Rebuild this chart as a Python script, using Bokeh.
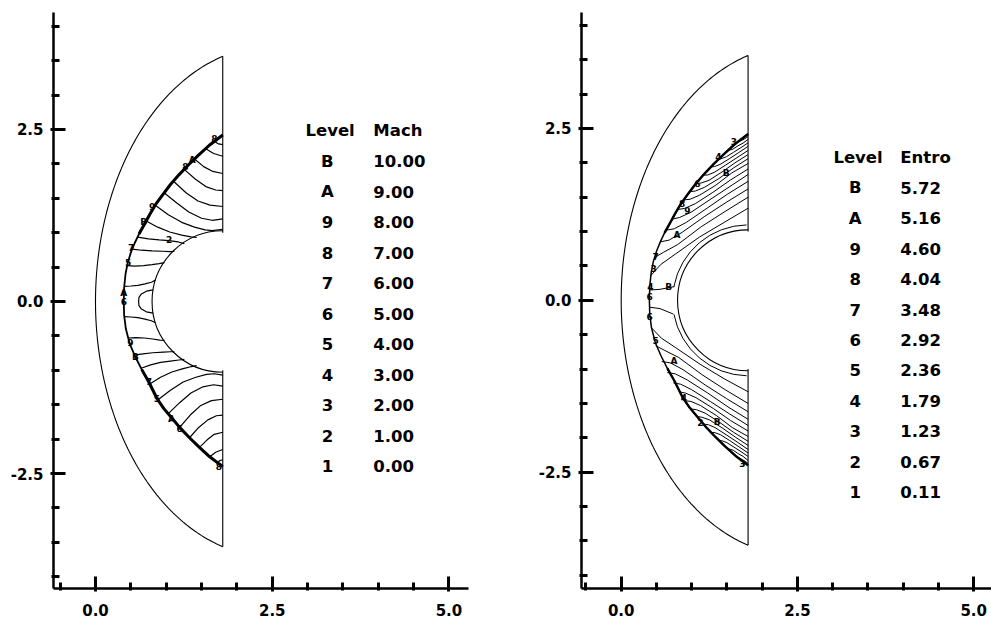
import numpy as np
from bokeh.plotting import figure
from bokeh.layouts import row
from bokeh.models import FixedTicker, Range1d, PrintfTickFormatter
from bokeh.embed import file_html
from bokeh.resources import INLINE
from bokeh.core.properties import value

# ---------------- legend tables ----------------
level_names = ["B", "A", "9", "8", "7", "6", "5", "4", "3", "2", "1"]
mach_values = ["10.00", "9.00", "8.00", "7.00", "6.00", "5.00", "4.00", "3.00", "2.00", "1.00", "0.00"]
entro_values = ["5.72", "5.16", "4.60", "4.04", "3.48", "2.92", "2.36", "1.79", "1.23", "0.67", "0.11"]

# ---------------- ticks ----------------
x_major = [0.0, 2.5, 5.0]
x_minor = [-0.5, 0.5, 1.0, 1.5, 2.0, 3.0, 3.5, 4.0, 4.5]
y_major = [-2.5, 0.0, 2.5]
y_minor = [-4.0, -3.5, -3.0, -2.0, -1.5, -1.0, -0.5, 0.5, 1.0, 1.5, 2.0, 3.0, 3.5, 4.0]

# ---------------- geometry ----------------
body_cx, body_r = 1.8, 1.0
exit_x = 1.8
outer_cx, outer_a, outer_b = 2.5, 2.5, 3.71

shock_x = [1.80, 1.61, 1.45, 1.31, 1.18, 1.06, 0.95, 0.85, 0.765, 0.69, 0.615, 0.555, 0.50, 0.455, 0.425, 0.405, 0.40,
           0.405, 0.43, 0.486, 0.566, 0.655, 0.754, 0.87, 0.97, 1.085, 1.20, 1.33, 1.47, 1.62, 1.80]
shock_y = [2.42, 2.27, 2.12, 1.98, 1.84, 1.70, 1.55, 1.41, 1.26, 1.12, 0.98, 0.85, 0.71, 0.56, 0.40, 0.20, 0.0,
           -0.20, -0.40, -0.62, -0.81, -0.99, -1.17, -1.41, -1.56, -1.70, -1.84, -1.98, -2.12, -2.26, -2.40]

# Mach contours (traced)
mach_xs = [
    [0.815, 0.72, 0.65, 0.615, 0.61, 0.615, 0.65, 0.72, 0.815],
    [0.407, 0.50, 0.60, 0.70, 0.79, 0.849],
    [0.447, 0.56, 0.68, 0.80, 0.90, 0.975],
    [0.52, 0.65, 0.80, 0.95, 1.05, 1.117],
    [0.595, 0.75, 0.90, 1.04, 1.17, 1.257],
    [0.717, 0.88, 1.05, 1.22, 1.35, 1.432],
    [0.845, 1.03, 1.22, 1.40, 1.55, 1.65, 1.80],
    [0.97, 1.15, 1.32, 1.50, 1.65, 1.80],
    [1.10, 1.28, 1.45, 1.62, 1.80],
    [1.255, 1.41, 1.56, 1.70, 1.80],
    [1.40, 1.53, 1.66, 1.80],
    [1.56, 1.67, 1.80],
    [1.68, 1.74, 1.80],
    [0.408, 0.50, 0.60, 0.70, 0.79, 0.849],
    [0.463, 0.57, 0.69, 0.81, 0.91, 0.975],
    [0.55, 0.67, 0.81, 0.96, 1.06, 1.117],
    [0.645, 0.78, 0.92, 1.06, 1.18, 1.257],
    [0.768, 0.92, 1.08, 1.24, 1.36, 1.432],
    [0.88, 1.06, 1.24, 1.42, 1.57, 1.68, 1.80],
    [1.03, 1.19, 1.35, 1.52, 1.67, 1.80],
    [1.19, 1.34, 1.49, 1.64, 1.80],
    [1.33, 1.46, 1.59, 1.71, 1.80],
    [1.47, 1.58, 1.68, 1.80],
    [1.61, 1.70, 1.80],
    [1.73, 1.76, 1.80],
]
mach_ys = [
    [0.17, 0.15, 0.11, 0.06, 0.0, -0.06, -0.11, -0.15, -0.17],
    [0.22, 0.225, 0.235, 0.255, 0.28, 0.31],
    [0.52, 0.515, 0.52, 0.535, 0.55, 0.565],
    [0.76, 0.745, 0.735, 0.73, 0.725, 0.73],
    [0.935, 0.91, 0.895, 0.885, 0.865, 0.84],
    [1.17, 1.08, 1.01, 0.965, 0.94, 0.93],
    [1.40, 1.26, 1.15, 1.08, 1.04, 1.03, 1.05],
    [1.58, 1.43, 1.30, 1.21, 1.18, 1.20],
    [1.75, 1.58, 1.46, 1.40, 1.38],
    [1.92, 1.78, 1.67, 1.62, 1.61],
    [2.07, 1.96, 1.89, 1.86],
    [2.22, 2.15, 2.11],
    [2.33, 2.29, 2.28],
    [-0.22, -0.225, -0.235, -0.255, -0.28, -0.31],
    [-0.53, -0.525, -0.53, -0.545, -0.56, -0.565],
    [-0.78, -0.76, -0.745, -0.735, -0.73, -0.73],
    [-0.97, -0.92, -0.885, -0.865, -0.85, -0.84],
    [-1.20, -1.10, -1.025, -0.975, -0.945, -0.93],
    [-1.43, -1.29, -1.17, -1.10, -1.06, -1.05, -1.07],
    [-1.63, -1.47, -1.33, -1.24, -1.21, -1.23],
    [-1.83, -1.65, -1.51, -1.44, -1.42],
    [-1.98, -1.83, -1.72, -1.66, -1.65],
    [-2.12, -2.01, -1.93, -1.90],
    [-2.26, -2.19, -2.15],
    [-2.34, -2.31, -2.30],
]
mach_label_text = ["8", "A", "8", "9", "B", "7", "5", "A", "6", "9", "B", "7", "5", "A", "6", "8", "2"]
mach_label_x = [1.68, 1.37, 1.27, 0.80, 0.68, 0.505, 0.46, 0.40, 0.40, 0.495, 0.566, 0.754, 0.87, 1.075, 1.19, 1.745, 1.04]
mach_label_y = [2.37, 2.05, 1.96, 1.38, 1.15, 0.78, 0.57, 0.12, 0.0, -0.59, -0.81, -1.16, -1.41, -1.70, -1.84, -2.40, 0.90]

# Entropy contours (traced)
entro_xs = [
    [0.42, 0.56, 0.765, 1.11, 1.455, 1.80],
    [0.47, 0.603, 0.80, 1.135, 1.47, 1.80],
    [0.555, 0.68, 0.866, 1.178, 1.489, 1.80],
    [0.635, 0.752, 0.926, 1.218, 1.509, 1.80],
    [0.72, 0.828, 0.99, 1.26, 1.53, 1.80],
    [0.80, 0.90, 1.05, 1.30, 1.55, 1.80],
    [0.885, 0.977, 1.114, 1.343, 1.571, 1.80],
    [0.97, 1.053, 1.178, 1.385, 1.593, 1.80],
    [1.06, 1.134, 1.245, 1.43, 1.615, 1.80],
    [1.165, 1.229, 1.324, 1.483, 1.641, 1.80],
    [1.27, 1.323, 1.403, 1.535, 1.668, 1.80],
    [1.39, 1.431, 1.493, 1.595, 1.698, 1.80],
    [1.515, 1.58, 1.657, 1.728, 1.80],
    [1.64, 1.72, 1.80],
    [0.43, 0.57, 0.775, 1.12, 1.46, 1.80],
    [0.49, 0.62, 0.815, 1.145, 1.475, 1.80],
    [0.575, 0.70, 0.88, 1.19, 1.495, 1.80],
    [0.655, 0.77, 0.94, 1.23, 1.515, 1.80],
    [0.74, 0.845, 1.00, 1.27, 1.535, 1.80],
    [0.82, 0.915, 1.06, 1.31, 1.555, 1.80],
    [0.90, 0.99, 1.125, 1.35, 1.575, 1.80],
    [0.985, 1.065, 1.19, 1.39, 1.595, 1.80],
    [1.075, 1.145, 1.255, 1.44, 1.62, 1.80],
    [1.175, 1.24, 1.33, 1.49, 1.645, 1.80],
    [1.28, 1.33, 1.41, 1.54, 1.67, 1.80],
    [1.40, 1.44, 1.50, 1.60, 1.70, 1.80],
    [1.525, 1.59, 1.66, 1.73, 1.80],
    [1.65, 1.725, 1.80],
    [0.405, 0.55, 0.759],
    [0.405, 0.55, 0.74],
]
entro_ys = [
    [0.36, 0.52, 0.67, 0.92, 1.13, 1.34],
    [0.62, 0.70, 0.81, 1.07, 1.29, 1.50],
    [0.85, 0.876, 0.99, 1.216, 1.424, 1.62],
    [1.02, 1.04, 1.135, 1.34, 1.545, 1.73],
    [1.18, 1.205, 1.28, 1.465, 1.647, 1.83],
    [1.32, 1.337, 1.405, 1.57, 1.75, 1.91],
    [1.46, 1.47, 1.53, 1.675, 1.854, 1.99],
    [1.58, 1.59, 1.642, 1.77, 1.925, 2.06],
    [1.70, 1.706, 1.745, 1.866, 2.0, 2.12],
    [1.82, 1.823, 1.863, 1.968, 2.074, 2.18],
    [1.94, 1.945, 1.976, 2.06, 2.149, 2.24],
    [2.06, 2.064, 2.089, 2.154, 2.22, 2.29],
    [2.18, 2.196, 2.248, 2.286, 2.34],
    [2.30, 2.33, 2.38],
    [-0.40, -0.55, -0.69, -0.93, -1.14, -1.33],
    [-0.66, -0.73, -0.83, -1.08, -1.30, -1.50],
    [-0.89, -0.91, -1.01, -1.23, -1.43, -1.62],
    [-1.05, -1.07, -1.16, -1.35, -1.55, -1.73],
    [-1.20, -1.22, -1.30, -1.475, -1.65, -1.82],
    [-1.33, -1.35, -1.415, -1.575, -1.75, -1.90],
    [-1.46, -1.47, -1.53, -1.675, -1.85, -1.98],
    [-1.58, -1.59, -1.64, -1.77, -1.92, -2.05],
    [-1.69, -1.70, -1.74, -1.86, -1.99, -2.11],
    [-1.80, -1.81, -1.85, -1.955, -2.06, -2.17],
    [-1.92, -1.925, -1.955, -2.04, -2.13, -2.22],
    [-2.04, -2.045, -2.07, -2.135, -2.20, -2.27],
    [-2.16, -2.18, -2.23, -2.27, -2.33],
    [-2.28, -2.32, -2.37],
    [0.15, 0.16, 0.20],
    [-0.10, -0.12, -0.20],
]
entro_layer_r = 1.07   # level-B layer hugging the body
entro_label_text = ["3", "4", "B", "6", "8", "9", "A", "7", "3", "4", "B", "6", "6", "5", "A", "4", "2", "B", "3"]
entro_label_x = [1.60, 1.38, 1.49, 1.08, 0.865, 0.94, 0.79, 0.49, 0.46, 0.415, 0.675, 0.405, 0.405, 0.49, 0.75, 0.89, 1.125, 1.36, 1.72]
entro_label_y = [2.31, 2.09, 1.85, 1.70, 1.41, 1.31, 0.95, 0.64, 0.47, 0.20, 0.20, 0.06, -0.24, -0.59, -0.88, -1.41, -1.78, -1.77, -2.38]

FONT = "DejaVu Sans"


def make_panel(width, x0, x1, y0, y1, bl, br, bt, bb):
    p = figure(width=width, height=622, x_range=Range1d(x0, x1), y_range=Range1d(y0, y1),
               min_border_left=bl, min_border_right=br, min_border_top=bt, min_border_bottom=bb,
               toolbar_location=None, output_backend="svg")
    p.grid.visible = False
    p.outline_line_color = None
    p.background_fill_color = "white"
    p.border_fill_color = "white"
    p.xaxis.ticker = FixedTicker(ticks=x_major, minor_ticks=x_minor)
    p.yaxis.ticker = FixedTicker(ticks=y_major, minor_ticks=y_minor)
    for ax in (p.xaxis[0], p.yaxis[0]):
        ax.formatter = PrintfTickFormatter(format="%.1f")
        ax.axis_line_width = 2.5
        ax.axis_line_color = "black"
        ax.major_tick_line_width = 3
        ax.minor_tick_line_width = 3
        ax.major_tick_in = 12
        ax.major_tick_out = 3
        ax.minor_tick_in = 6
        ax.minor_tick_out = 2
        ax.major_label_text_font = FONT
        ax.major_label_text_font_style = "bold"
        ax.major_label_text_font_size = "15px"
        ax.major_label_text_color = "black"
    p.xaxis.major_label_standoff = 12
    p.yaxis.major_label_standoff = 7
    return p


def draw_domain(p):
    t0 = np.arccos((exit_x - outer_cx) / outer_a)
    th = np.linspace(t0, 2 * np.pi - t0, 200)
    p.line(outer_cx + outer_a * np.cos(th), outer_b * np.sin(th), line_color="black", line_width=1.1)
    p.arc(x=body_cx, y=0, radius=body_r, start_angle=np.pi / 2, end_angle=3 * np.pi / 2,
          line_color="black", line_width=1.1)
    yb = outer_b * np.sin(t0)
    p.segment(x0=[exit_x, exit_x], y0=[body_r, -body_r], x1=[exit_x, exit_x], y1=[yb, -yb],
              line_color="black", line_width=1.1)


def draw_shock(p, thin, thick):
    p.line(shock_x, shock_y, line_color="black", line_width=thin)
    up = [i for i, y in enumerate(shock_y) if y >= 0.9]
    lo = [i for i, y in enumerate(shock_y) if y <= -0.9]
    for idx in (up, lo):
        p.line([shock_x[i] for i in idx], [shock_y[i] for i in idx], line_color="black", line_width=thick)


def draw_legend(p, title2, values, lx, vx, ty, dy):
    kw = dict(text_font=value(FONT), text_font_size="16.5px", text_font_style="bold",
              text_baseline="middle", text_color="black")
    p.text(x=[lx], y=[ty], text=["Level"], text_align="left", **kw)
    p.text(x=[vx], y=[ty], text=[title2], text_align="left", **kw)
    ys = [ty - dy * (i + 1) for i in range(len(level_names))]
    p.text(x=[lx + 0.31] * len(level_names), y=ys, text=level_names, text_align="center", **kw)
    p.text(x=[vx] * len(values), y=ys, text=values, text_align="left", **kw)


lab_kw = dict(text_font=value(FONT), text_font_size="9px", text_font_style="bold",
              text_align="center", text_baseline="middle", text_color="black")

# ---------------- left panel ----------------
p1 = make_panel(528, -0.594, 5.276, -4.170, 4.199, 53, 60, 8, 34)
draw_domain(p1)
p1.multi_line(xs=mach_xs, ys=mach_ys, line_color="black", line_width=1.2)
draw_shock(p1, 1.8, 3.0)
p1.text(x=mach_label_x, y=mach_label_y, text=mach_label_text, **lab_kw)
draw_legend(p1, "Mach", mach_values, 2.97, 3.93, 2.48, 0.443)

# ---------------- right panel ----------------
p2 = make_panel(463, -0.563, 5.253, -4.191, 4.186, 53, 0, 12, 32)
draw_domain(p2)
p2.multi_line(xs=entro_xs, ys=entro_ys, line_color="black", line_width=1.0)
a_up = np.arcsin(0.20 / entro_layer_r)
p2.arc(x=body_cx, y=0, radius=entro_layer_r, start_angle=np.pi / 2 + 0.02, end_angle=np.pi - a_up,
       line_color="black", line_width=1.0)
p2.arc(x=body_cx, y=0, radius=entro_layer_r, start_angle=np.pi + a_up, end_angle=3 * np.pi / 2 - 0.02,
       line_color="black", line_width=1.0)
draw_shock(p2, 1.5, 2.4)
p2.text(x=entro_label_x, y=entro_label_y, text=entro_label_text, **lab_kw)
draw_legend(p2, "Entro", entro_values, 3.01, 3.96, 2.084, 0.4435)

layout = row(p1, p2)
open("out.html", "w").write(file_html(layout, INLINE))
